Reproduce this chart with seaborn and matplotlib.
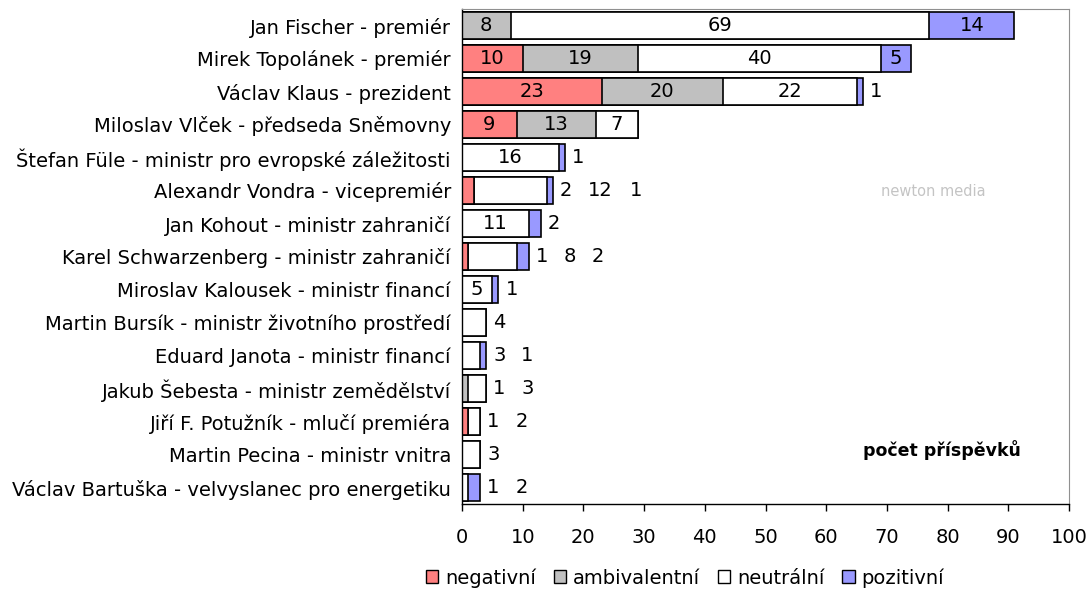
import pandas as pd
import matplotlib
matplotlib.use("Agg")
import matplotlib.pyplot as plt
from matplotlib.patches import Patch
import seaborn as sns

# data
names = ["Jan Fischer - premiér",
         "Mirek Topolánek - premiér",
         "Václav Klaus - prezident",
         "Miloslav Vlček - předseda Sněmovny",
         "Štefan Füle - ministr pro evropské záležitosti",
         "Alexandr Vondra - vicepremiér",
         "Jan Kohout - ministr zahraničí",
         "Karel Schwarzenberg - ministr zahraničí",
         "Miroslav Kalousek - ministr financí",
         "Martin Bursík - ministr životního prostředí",
         "Eduard Janota - ministr financí",
         "Jakub Šebesta - ministr zemědělství",
         "Jiří F. Potužník - mlučí premiéra",
         "Martin Pecina - ministr vnitra",
         "Václav Bartuška - velvyslanec pro energetiku"]
negativni = [0, 10, 23, 9, 0, 2, 0, 1, 0, 0, 0, 0, 1, 0, 0]
ambivalentni = [8, 19, 20, 13, 0, 0, 0, 0, 0, 0, 0, 1, 0, 0, 0]
neutralni = [69, 40, 22, 7, 16, 12, 11, 8, 5, 4, 3, 3, 2, 3, 1]
pozitivni = [14, 5, 1, 0, 1, 1, 2, 2, 1, 0, 1, 0, 0, 0, 2]

series = ["negativní", "ambivalentní", "neutrální", "pozitivní"]
colors = ["#FF8080", "#C0C0C0", "#FFFFFF", "#9999FF"]

plt.rcParams["font.family"] = ["DejaVu Sans"]

df = pd.DataFrame({"name": names, "negativní": negativni,
                   "ambivalentní": ambivalentni, "neutrální": neutralni,
                   "pozitivní": pozitivni})
cum = df[series].cumsum(axis=1)

fig = plt.figure(figsize=(10.87, 5.91), dpi=100)
ax = fig.add_axes([462 / 1087, 1 - 504 / 591, (1069 - 462) / 1087, (504 - 9) / 591])

# stacked bars: draw cumulative totals, longest first
for s, c in reversed(list(zip(series, colors))):
    sns.barplot(x=cum[s], y=df["name"], orient="h", color=c, saturation=1,
                edgecolor="black", linewidth=1.2, width=0.8, ax=ax)

# value labels
fs = 14
px = 0.72  # points per pixel
for i, row in df.iterrows():
    vals = [row[s] for s in series]
    left = 0
    outside = False
    off = 7
    total = sum(vals)
    for v in vals:
        if v == 0:
            continue
        if v < 5:
            outside = True
        if not outside:
            ax.text(left + v / 2, i, str(v), ha="center", va="center", fontsize=fs)
        else:
            ax.annotate(str(v), xy=(total, i), xytext=(off * px, 0),
                        textcoords="offset points", ha="left", va="center",
                        fontsize=fs)
            off += 28 if v < 10 else 42
        left += v

ax.set_xlim(0, 100)
ax.set_ylim(14.5, -0.5)
ax.set_xticks(range(0, 101, 10))
ax.set_xlabel("")
ax.set_ylabel("")
ax.tick_params(axis="y", length=0, pad=8, labelsize=fs)
ax.tick_params(axis="x", length=5, width=1, pad=12, labelsize=fs, direction="out")
for side in ["top", "right"]:
    ax.spines[side].set_color("#909090")
for side in ["left", "bottom"]:
    ax.spines[side].set_color("black")
    ax.spines[side].set_linewidth(1)

ax.text(0.79, 0.11, "počet příspěvků", transform=ax.transAxes, ha="center",
        va="center", fontsize=12.5, fontweight="bold")
fig.text(933 / 1087, 1 - 192 / 591, "newton media", color="#c4c4c4",
         ha="center", va="center", fontsize=10.5)

handles = [Patch(facecolor=c, edgecolor="black", linewidth=1) for c in colors]
fig.legend(handles, series, loc="center", bbox_to_anchor=(685 / 1087, 1 - 578 / 591),
           ncol=4, frameon=False, fontsize=fs, handlelength=0.65, handleheight=0.65,
           handletextpad=0.35, columnspacing=0.9)

fig.savefig("out.png", dpi=100)
